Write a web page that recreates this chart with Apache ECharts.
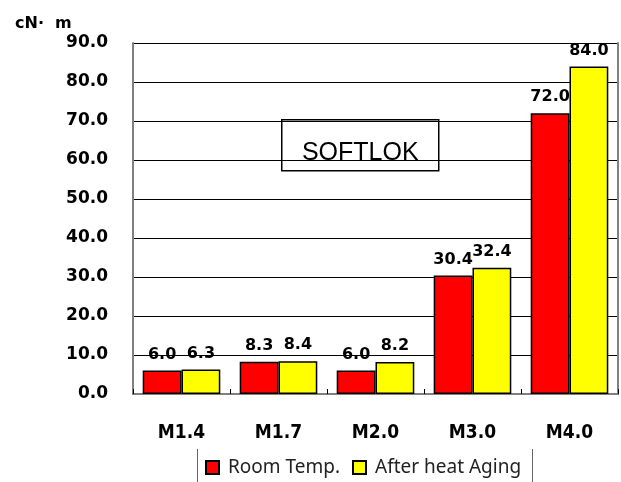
<!DOCTYPE html>
<html>
<head>
<meta charset="utf-8">
<script src="https://cdn.jsdelivr.net/npm/echarts@6/dist/echarts.min.js"></script>
<style>
  html, body { margin: 0; padding: 0; background: #fff; }
  #chart { width: 621px; height: 482px; }
</style>
</head>
<body>
<div id="chart"></div>
<script>
const categories = ["M1.4", "M1.7", "M2.0", "M3.0", "M4.0"];
const roomTemp = [6.0, 8.3, 6.0, 30.4, 72.0];
const afterAging = [6.3, 8.4, 8.2, 32.4, 84.0];
const seriesNames = ["Room Temp.", "After heat Aging"];
const unitLabel = "cN\u00b7  m";
const boxTitle = "SOFTLOK";

const chart = echarts.init(document.getElementById("chart"));

const labelStyle = {
  show: true,
  position: "top",
  distance: 8,
  formatter: (p) => p.value.toFixed(1),
  fontFamily: "DejaVu Sans",
  fontWeight: "bold",
  fontSize: 16,
  color: "#000",
};

chart.setOption({
  animation: false,
  backgroundColor: "#fff",
  grid: { left: 133, right: 3, top: 43, bottom: 88 },
  legend: {
    top: 453,
    left: 200,
    itemWidth: 13,
    itemHeight: 13,
    itemGap: 12,
    icon: "rect",
    textStyle: {
      fontFamily: "Noto Sans",
      fontSize: 19,
      color: "#222",
      padding: [0, 0, 0, 4],
    },
    data: seriesNames,
  },
  xAxis: [
    {
      type: "category",
      data: categories,
      axisLine: { lineStyle: { color: "#808080", width: 2 } },
      axisTick: { show: true, inside: true, length: 5, lineStyle: { color: "#000" } },
      axisLabel: {
        margin: 30,
        fontFamily: "DejaVu Sans Condensed",
        fontWeight: "bold",
        fontSize: 19,
        color: "#000",
      },
    },
    {
      type: "category",
      position: "top",
      data: categories,
      axisLine: { lineStyle: { color: "#808080", width: 2 } },
      axisTick: { show: false },
      axisLabel: { show: false },
    },
  ],
  yAxis: [
    {
      type: "value",
      min: 0,
      max: 90,
      interval: 10,
      axisLine: { show: true, lineStyle: { color: "#808080", width: 2 } },
      axisTick: { show: false },
      splitLine: { lineStyle: { color: "#000", width: 1 } },
      axisLabel: {
        margin: 25,
        formatter: (v) => v.toFixed(1),
        fontFamily: "DejaVu Sans",
        fontWeight: "bold",
        fontSize: 17,
        color: "#000",
      },
    },
    {
      type: "value",
      position: "right",
      min: 0,
      max: 90,
      interval: 10,
      axisLine: { show: true, lineStyle: { color: "#808080", width: 2 } },
      axisTick: { show: false },
      splitLine: { show: false },
      axisLabel: { show: false },
    },
  ],
  graphic: [
    {
      type: "text",
      left: 15,
      top: 16,
      style: {
        text: unitLabel,
        fontFamily: "DejaVu Sans",
        fontWeight: "bold",
        fontSize: 16,
        fill: "#000",
      },
    },
    {
      type: "group",
      left: 281,
      top: 119,
      z: 100,
      children: [
        {
          type: "rect",
          shape: { x: 0, y: 0, width: 157, height: 51 },
          style: { fill: "#fff", stroke: "#000", lineWidth: 1.5 },
        },
        {
          type: "text",
          style: {
            x: 78.5,
            y: 33,
            text: boxTitle,
            align: "center",
            verticalAlign: "middle",
            fontFamily: "Liberation Sans",
            fontSize: 25,
            fill: "#000",
          },
        },
      ],
    },
    {
      type: "line",
      shape: { x1: 197.5, y1: 449, x2: 197.5, y2: 482 },
      style: { stroke: "#666", lineWidth: 1 },
    },
    {
      type: "line",
      shape: { x1: 532.5, y1: 449, x2: 532.5, y2: 482 },
      style: { stroke: "#666", lineWidth: 1 },
    },
  ],
  series: [
    {
      name: seriesNames[0],
      type: "bar",
      data: roomTemp,
      barCategoryGap: "20%",
      barGap: "0%",
      itemStyle: { color: "#ff0000", borderColor: "#000", borderWidth: 1.5 },
      label: labelStyle,
    },
    {
      name: seriesNames[1],
      type: "bar",
      data: afterAging,
      barCategoryGap: "20%",
      barGap: "0%",
      itemStyle: { color: "#ffff00", borderColor: "#000", borderWidth: 1.5 },
      label: labelStyle,
    },
  ],
});
</script>
</body>
</html>
